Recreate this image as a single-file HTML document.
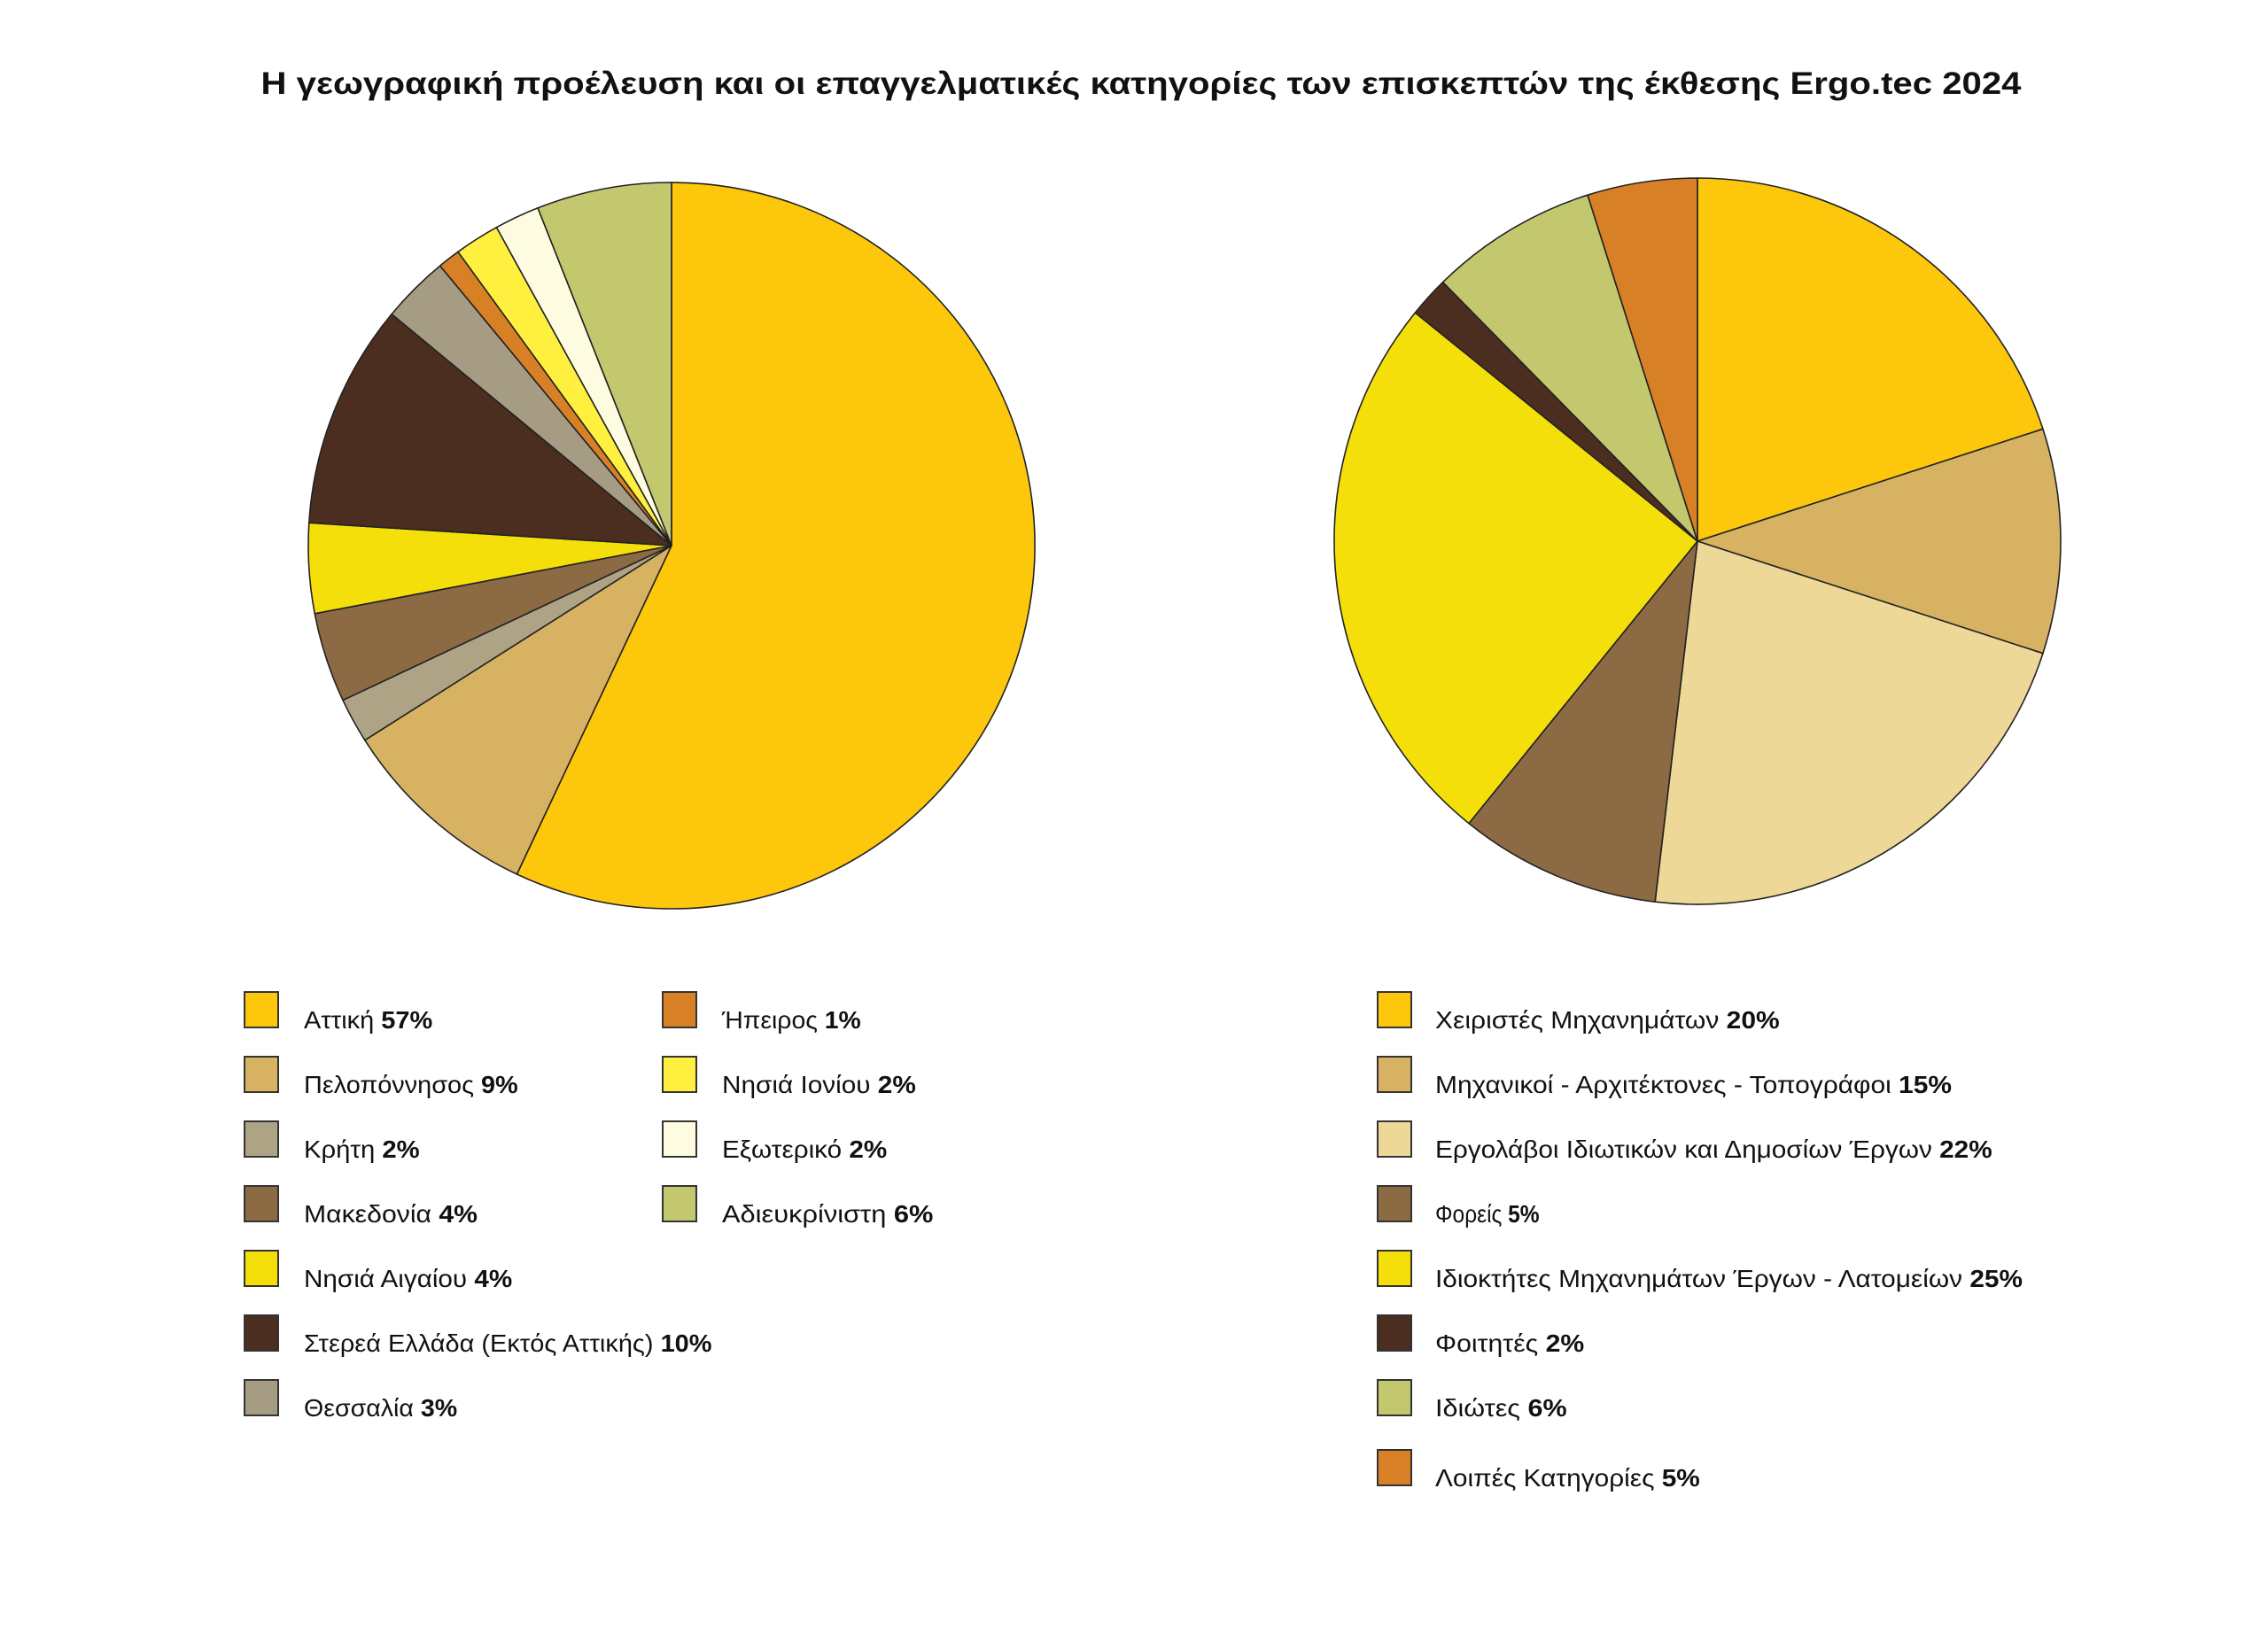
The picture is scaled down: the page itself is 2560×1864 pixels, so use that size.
<!DOCTYPE html>
<html><head><meta charset="utf-8"><style>
html,body{margin:0;padding:0;background:#fff;}
svg{display:block;}
text{font-family:"Liberation Sans",sans-serif;fill:#111;}
</style></head><body>
<svg id="s" width="2560" height="1864" viewBox="0 0 2560 1864" xmlns="http://www.w3.org/2000/svg">
<text x="1288" y="106" text-anchor="middle" font-size="35" font-weight="bold" textLength="1987" lengthAdjust="spacingAndGlyphs">Η γεωγραφική προέλευση και οι επαγγελματικές κατηγορίες των επισκεπτών της έκθεσης Ergo.tec 2024</text>
<g id="pies"></g>
<g id="leg"></g>
</svg>
<script>
var NS="http://www.w3.org/2000/svg";
function pie(cx,cy,r,angles,colors){
  var g=document.getElementById('pies');
  for(var i=0;i<colors.length;i++){
    var a0=angles[i]*Math.PI/180,a1=angles[i+1]*Math.PI/180;
    var x0=cx+r*Math.sin(a0),y0=cy-r*Math.cos(a0),x1=cx+r*Math.sin(a1),y1=cy-r*Math.cos(a1);
    var large=(angles[i+1]-angles[i])>180?1:0;
    var p=document.createElementNS(NS,'path');
    p.setAttribute('d','M'+cx+','+cy+' L'+x0+','+y0+' A'+r+','+r+' 0 '+large+' 1 '+x1+','+y1+' Z');
    p.setAttribute('fill',colors[i]);p.setAttribute('stroke','#222');p.setAttribute('stroke-width','1.6');p.setAttribute('stroke-linejoin','round');
    g.appendChild(p);
  }
}
var C={att:'#FDC70C',pel:'#D6B262',kri:'#AFA386',mak:'#8C6A44',aig:'#F5DF0A',ste:'#4C2E20',the:'#A59C83',ipe:'#D88026',ion:'#FFF040',exo:'#FEFCE0',adi:'#C3C76E',erg:'#EED898'};
var lp=[57,9,2,4,4,10,3,1,2,2,6],la=[0],s=0;lp.forEach(function(v){s+=v;la.push(s*3.6);});
pie(758,616,410,la,[C.att,C.pel,C.kri,C.mak,C.aig,C.ste,C.the,C.ipe,C.ion,C.exo,C.adi]);
pie(1916,611,410,[0,72,108,186.7,219,309,315.5,342.4,360],[C.att,C.pel,C.erg,C.mak,C.aig,C.ste,C.adi,C.ipe]);
var rows=[1140,1213,1286,1359,1432,1505,1578,1657];
var k=1.633;
function leg(sx,tx,items){
  var g=document.getElementById('leg');
  items.forEach(function(it,i){
    var y=rows[i];
    var r=document.createElementNS(NS,'rect');
    r.setAttribute('x',sx);r.setAttribute('y',y-20);r.setAttribute('width',38);r.setAttribute('height',40);
    r.setAttribute('fill',it[0]);r.setAttribute('stroke','#333');r.setAttribute('stroke-width','2');
    g.appendChild(r);
    var t=document.createElementNS(NS,'text');
    t.setAttribute('x',tx);t.setAttribute('y',y+21);t.setAttribute('font-size','28');
    t.setAttribute('textLength',(it[3]*k).toFixed(1));t.setAttribute('lengthAdjust','spacingAndGlyphs');
    t.appendChild(document.createTextNode(it[1]+' '));
    var b=document.createElementNS(NS,'tspan');b.setAttribute('font-weight','bold');b.textContent=it[2];
    t.appendChild(b);g.appendChild(t);
  });
}
leg(276,343,[[C.att,'Αττική','57%',89],[C.pel,'Πελοπόννησος','9%',148],[C.kri,'Κρήτη','2%',80],[C.mak,'Μακεδονία','4%',120],[C.aig,'Νησιά Αιγαίου','4%',144],[C.ste,'Στερεά Ελλάδα (Εκτός Αττικής)','10%',282],[C.the,'Θεσσαλία','3%',106]]);
leg(748,815,[[C.ipe,'Ήπειρος','1%',96],[C.ion,'Νησιά Ιονίου','2%',134],[C.exo,'Εξωτερικό','2%',114],[C.adi,'Αδιευκρίνιστη','6%',146]]);
leg(1555,1620,[[C.att,'Χειριστές Μηχανημάτων','20%',238],[C.pel,'Μηχανικοί - Αρχιτέκτονες - Τοπογράφοι','15%',357],[C.erg,'Εργολάβοι Ιδιωτικών και Δημοσίων Έργων','22%',385],[C.mak,'Φορείς','5%',72],[C.aig,'Ιδιοκτήτες Μηχανημάτων Έργων - Λατομείων','25%',406],[C.ste,'Φοιτητές','2%',103],[C.adi,'Ιδιώτες','6%',91],[C.ipe,'Λοιπές Κατηγορίες','5%',183]]);
</script>
</body></html>
